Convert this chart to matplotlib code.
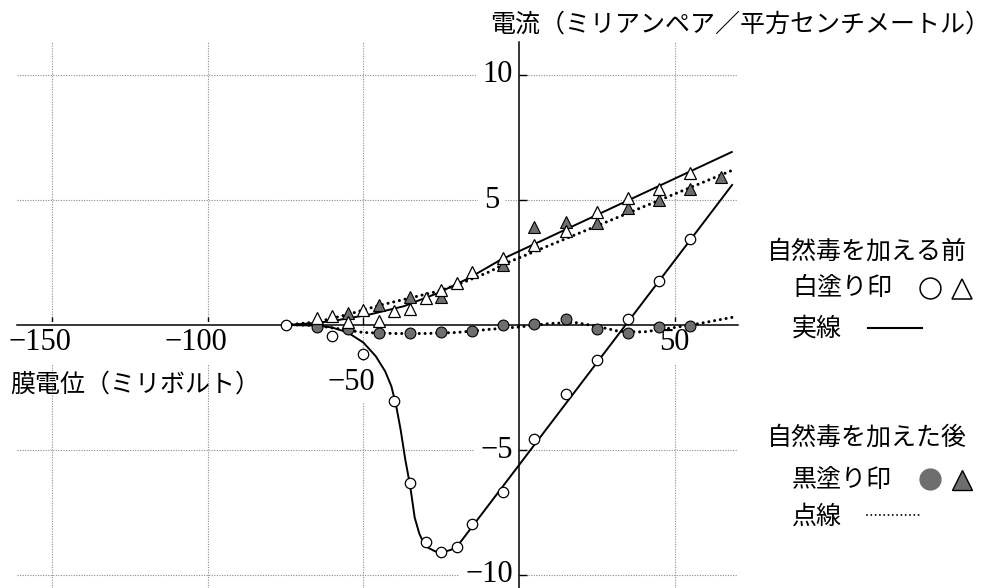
import matplotlib
matplotlib.use("Agg")
import matplotlib.pyplot as plt
from matplotlib.lines import Line2D
from matplotlib.transforms import offset_copy

# membrane potential (mV) / current density (mA/cm^2)
# before toxin: open circles and open triangles
open_circle_x = [-75, -60, -50, -40, -35, -30, -25, -20, -15, -5, 5, 15, 25, 35, 45, 55]
open_circle_y = [0, -0.44, -1.16, -3.04, -6.32, -8.68, -9.08, -8.88, -7.96, -6.68,
                 -4.56, -2.76, -1.4, 0.24, 1.76, 3.44]
open_tri_x = [-65, -60, -55, -50, -45, -40, -35, -30, -25, -20, -15, -5, 5, 15, 25, 35, 45, 55]
open_tri_y = [0.28, 0.38, 0.12, 0.6, 0.18, 0.55, 0.65, 1.1, 1.42, 1.7, 2.12, 2.7,
              3.22, 3.78, 4.52, 5.08, 5.45, 6.08]

# after toxin: filled circles and filled triangles
dark_circle_x = [-65, -55, -45, -35, -25, -15, -5, 5, 15, 25, 35, 45, 55]
dark_circle_y = [-0.08, -0.16, -0.32, -0.32, -0.28, -0.24, 0.02, 0.04, 0.24, -0.14,
                 -0.3, -0.08, -0.04]
dark_tri_x = [-55, -45, -35, -25, -5, 5, 15, 25, 35, 45, 55, 65]
dark_tri_y = [0.48, 0.8, 1.12, 1.14, 2.4, 3.92, 4.12, 4.08, 4.68, 5.0, 5.44, 5.92]

# fitted curves as drawn in the figure
solid_circ_x = [-75, -65, -60, -55, -50, -46, -43, -41, -39.5, -38, -36.5, -35, -33.5,
                -32, -30.5, -29, -27, -25, -22, -20, 68.5]
solid_circ_y = [0, -0.02, -0.1, -0.3, -0.7, -1.25, -1.85, -2.45, -3.2, -4.2, -5.4, -6.4,
                -7.7, -8.35, -8.75, -8.92, -9.05, -9.1, -9.0, -8.88, 5.6]
solid_tri_x = [-75, -65, -58, -48, -37, -26, -16, -6, 68.4]
solid_tri_y = [0, 0.08, 0.2, 0.42, 0.75, 1.28, 1.88, 2.6, 6.92]
dot_circ_x = [-75, -65, -58, -50, -40, -30, -20, -10, 0, 10, 18, 25, 32, 40, 50, 58, 70]
dot_circ_y = [0.02, -0.02, -0.15, -0.3, -0.34, -0.34, -0.3, -0.18, -0.08, 0.06, 0.1,
              -0.05, -0.25, -0.28, -0.1, 0.06, 0.34]
dot_tri_x = [-75, -65, -55, -45, -35, -26, -20, -10, -4, 68.8]
dot_tri_y = [0, 0.12, 0.42, 0.78, 1.08, 1.35, 1.6, 2.1, 2.48, 6.2]

x_ticks = [-150, -100, -50, 50]
x_tick_labels = ["−150", "−100", "−50", "50"]
y_ticks = [10, 5, -5, -10]
y_tick_labels = ["10", "5", "−5", "−10"]

cjk = ["Noto Sans CJK JP", "DejaVu Sans"]
num_font = "Liberation Serif"
gray = "#6e6e6e"

fig = plt.figure(figsize=(10.02, 5.88), dpi=100)
ax = fig.add_axes([17 / 1002, 0, 721 / 1002, 546 / 588])

ax.plot(solid_circ_x, solid_circ_y, color="black", lw=1.4, zorder=3)
ax.plot(solid_tri_x, solid_tri_y, color="black", lw=1.4, zorder=3)
dots = dict(color="black", lw=2.2, ls=(0, (0.01, 1.9)), dash_capstyle="round", zorder=3)
ax.plot(dot_circ_x, dot_circ_y, **dots)
ax.plot(dot_tri_x, dot_tri_y, **dots)

ax.plot(dark_circle_x, dark_circle_y, "o", ms=7.8, mfc=gray, mec="black", mew=0.8, zorder=4)
ax.plot(dark_tri_x, dark_tri_y, "^", ms=8.2, mfc=gray, mec="black", mew=0.8, zorder=4)
ax.plot(open_tri_x, open_tri_y, "^", ms=8.2, mfc="white", mec="black", mew=0.9, zorder=5)
ax.plot(open_circle_x, open_circle_y, "o", ms=7.5, mfc="white", mec="black", mew=0.9, zorder=5)

ax.set_xlim(-161.3, 70.4)
ax.set_ylim(-10.52, 11.32)
ax.spines["left"].set_position(("data", 0))
ax.spines["bottom"].set_position(("data", 0))
ax.spines["top"].set_visible(False)
ax.spines["right"].set_visible(False)
ax.spines["left"].set_linewidth(1.1)
ax.spines["bottom"].set_linewidth(1.1)
ax.set_xticks([-150, -100, -50, 50])
ax.set_yticks([-10, -5, 5, 10])
ax.tick_params(direction="in", length=6, width=1, labelbottom=False, labelleft=False)
ax.grid(True, color="#8c8c8c", lw=0.8, ls=(0, (1, 1.3)))
ax.set_axisbelow(True)

# tick labels (digits centred on the tick, minus hanging to the left)
box = dict(boxstyle="square,pad=0.2", fc="white", ec="none")
for xv, lab in zip(x_ticks, x_tick_labels):
    dx = -12 if lab.startswith("−") else 0
    dy = -57 if xv == -50 else -18
    tr = offset_copy(ax.transData, fig=fig, x=dx, y=dy, units="dots")
    ax.text(xv, 0, lab, transform=tr, ha="center", va="center", fontsize=22,
            family=num_font, bbox=box, zorder=2)
for yv, lab in zip(y_ticks, y_tick_labels):
    dx = -20 if lab == "5" else -6
    tr = offset_copy(ax.transData, fig=fig, x=dx, y=0, units="dots")
    ax.text(0, yv, lab, transform=tr, ha="right", va="center", fontsize=22,
            family=num_font, bbox=box, zorder=2)

# axis titles
fig.text(490 / 1002, 1 - 25 / 588, "電流（ミリアンペア／平方センチメートル）",
         ha="left", va="center", fontsize=18, family=cjk)
fig.text(10 / 1002, 1 - 385 / 588, "膜電位（ミリボルト）",
         ha="left", va="center", fontsize=18, family=cjk)


# legend block on the right
def fx(px):
    return px / 1002


def fy(py):
    return 1 - py / 588


fig.text(fx(767), fy(252), "自然毒を加える前", ha="left", va="center", fontsize=18, family=cjk)
fig.text(fx(792), fy(288), "白塗り印", ha="left", va="center", fontsize=18, family=cjk)
fig.text(fx(792), fy(329), "実線", ha="left", va="center", fontsize=18, family=cjk)
fig.text(fx(767), fy(438), "自然毒を加えた後", ha="left", va="center", fontsize=18, family=cjk)
fig.text(fx(792), fy(480), "黒塗り印", ha="left", va="center", fontsize=18, family=cjk)
fig.text(fx(792), fy(517), "点線", ha="left", va="center", fontsize=18, family=cjk)

fig.add_artist(Line2D([fx(930)], [fy(288)], transform=fig.transFigure, marker="o", ms=15,
                      mfc="white", mec="black", mew=1.1, ls="none"))
fig.add_artist(Line2D([fx(962)], [fy(289)], transform=fig.transFigure, marker="^", ms=15,
                      mfc="white", mec="black", mew=1.1, ls="none"))
fig.add_artist(Line2D([fx(930)], [fy(479)], transform=fig.transFigure, marker="o", ms=15,
                      mfc=gray, mec=gray, mew=1, ls="none"))
fig.add_artist(Line2D([fx(962)], [fy(480)], transform=fig.transFigure, marker="^", ms=15,
                      mfc=gray, mec="black", mew=1, ls="none"))
fig.add_artist(Line2D([fx(868), fx(922)], [fy(328), fy(328)], transform=fig.transFigure,
                      color="black", lw=1.5))
fig.add_artist(Line2D([fx(867), fx(922)], [fy(515), fy(515)], transform=fig.transFigure,
                      color="black", lw=1.4, ls=(0, (0.01, 2.2)), dash_capstyle="round"))

fig.savefig("out.png", dpi=100, facecolor="white")
